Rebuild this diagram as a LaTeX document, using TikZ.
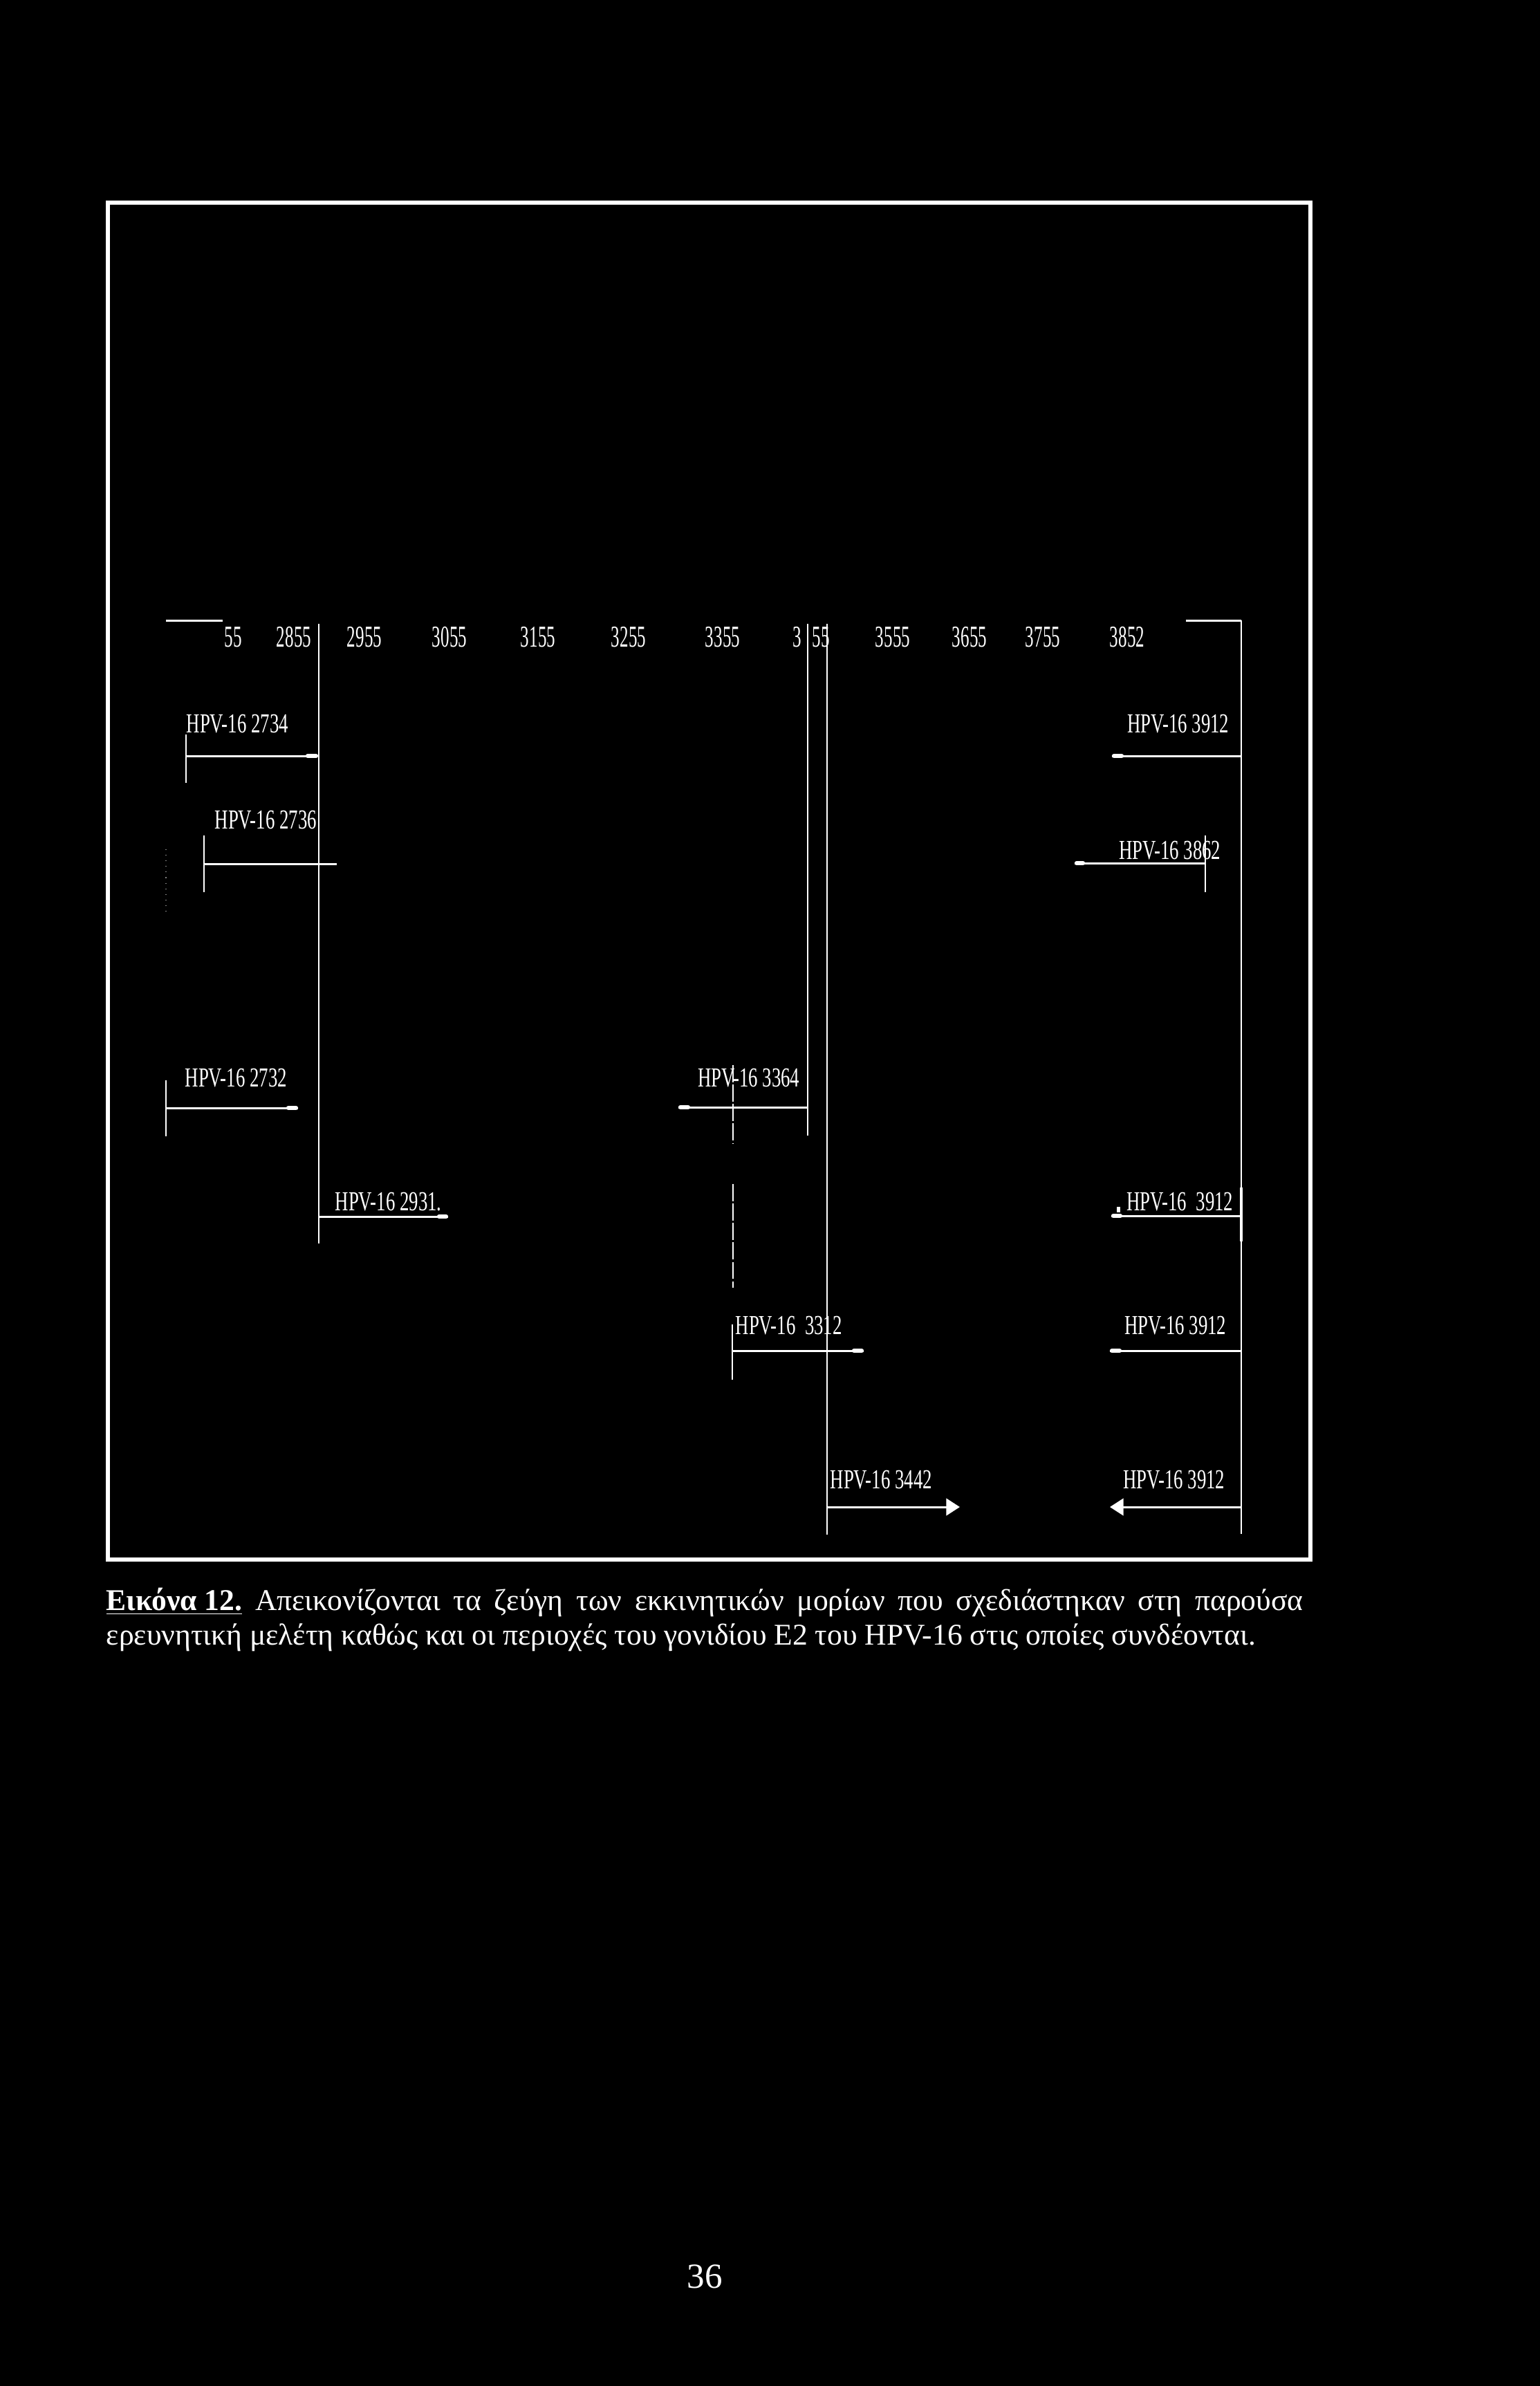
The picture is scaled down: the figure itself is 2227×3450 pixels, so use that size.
\documentclass[tikz,border=0pt]{standalone}
\usepackage{fontspec}
\setmainfont{Liberation Serif}
\newfontfamily\labfam[FakeStretch=0.675]{Liberation Serif}
\newfontfamily\numfam[FakeStretch=0.57]{Liberation Serif}
\usetikzlibrary{arrows.meta}
\tikzset{
  frameline/.style={draw=white, line width=1.7pt},
  hl/.style={draw=white, line width=0.85pt},
  vl/.style={draw=white, line width=0.55pt},
  stub/.style={draw=white, line width=1.8pt, line cap=round},
  lab/.style={text=white, inner sep=0pt, font=\fontsize{11.3pt}{13pt}\labfam},
  num/.style={text=white, inner sep=0pt, font=\fontsize{12.5pt}{14pt}\numfam},
  captext/.style={text=white, inner sep=0pt, font=\fontsize{12.4pt}{15pt}\selectfont},
  arr/.style={hl, -{Triangle[length=5.6pt,width=7pt]}},
  brokenline/.style={vl, dash pattern=on 7pt off 1pt}
}
\begin{document}
\begin{tikzpicture}[x=0.01cm,y=-0.01cm]
\fill[black] (0,0) rectangle (2227,3450);
\useasboundingbox (0,0) rectangle (2227,3450);

% frame
\draw[frameline] (156,293) rectangle (1895,2255);

% ruler
\draw[hl] (240,897) -- (322,897);
\draw[hl] (1715,897) -- (1795,897);
\draw[vl] (1795,897) -- (1795,2218);
\draw[vl] (461,902) -- (461,1798);
\draw[vl] (1168,902) -- (1168,1642);
\draw[vl] (1196,902) -- (1196,2219);

\foreach \xx/\tt/\nm in {337/55/n1, 425/2855/n2, 527/2955/n3, 650/3055/n4, 778/3155/n5,
   909/3255/n6, 1045/3355/n7, 1153/3/n8a, 1187/55/n8b, 1291/3555/n9, 1402/3655/n10,
   1508/3755/n11, 1630/3852/n12}
  \node[num, anchor=base] (\nm) at (\xx,935) {\tt};

% labels
\node[lab, anchor=base west] (p2734) at (269,1059) {HPV-16 2734};
\node[lab, anchor=base east] (p3912a) at (1778,1059) {HPV-16 3912};
\node[lab, anchor=base west] (p2736) at (310,1198) {HPV-16 2736};
\node[lab, anchor=base east] (p3862) at (1766,1242) {HPV-16 3862};
\node[lab, anchor=base west] (p2732) at (267,1571) {HPV-16 2732};
\node[lab, anchor=base east] (p3364) at (1157,1571) {HPV-16 3364};
\node[lab, anchor=base west] (p2931) at (484,1750) {HPV-16 2931.};
\node[lab, anchor=base east] (p3912b) at (1784,1750) {HPV-16\ \ 3912};
\node[lab, anchor=base west] (p3312) at (1063,1929) {HPV-16\ \ 3312};
\node[lab, anchor=base east] (p3912c) at (1774,1929) {HPV-16 3912};
\node[lab, anchor=base west] (p3442) at (1200,2152) {HPV-16 3442};
\node[lab, anchor=base east] (p3912d) at (1772,2152) {HPV-16 3912};

% row 1
\draw[vl] (269,1062) -- (269,1132);
\draw[hl] (269,1093) -- (459,1093);
\draw[stub] (445,1093) -- (457,1093);
\draw[hl] (1608,1093) -- (1795,1093);
\draw[stub] (1611,1093) -- (1622,1093);

% row 2
\draw[vl] (295,1208) -- (295,1290);
\draw[hl] (295,1249) -- (487,1249);
\draw[gray, dotted, line width=0.3pt] (240,1228) -- (240,1320);
\draw[vl] (1743,1208) -- (1743,1290);
\draw[hl] (1554,1248) -- (1743,1248);
\draw[stub] (1557,1248) -- (1566,1248);

% row 3
\draw[vl] (240,1562) -- (240,1643);
\draw[hl] (240,1602) -- (431,1602);
\draw[stub] (417,1602) -- (428,1602);
\draw[hl] (981,1601) -- (1168,1601);
\draw[stub] (984,1601) -- (995,1601);
\draw[brokenline] (1060,1540) -- (1060,1653);

% row 4
\draw[hl] (460,1759) -- (648,1759);
\draw[stub] (635,1759) -- (645,1759);
\draw[hl] (1607,1758) -- (1795,1758);
\draw[stub] (1610,1758) -- (1620,1758);
\draw[white, line width=1.1pt] (1795,1717) -- (1795,1795);
\fill[white] (1615,1745) rectangle (1620,1753);
\draw[brokenline] (1060,1712) -- (1060,1862);

% row 5
\draw[vl] (1059,1915) -- (1059,1995);
\draw[hl] (1059,1953) -- (1249,1953);
\draw[stub] (1235,1953) -- (1246,1953);
\draw[hl] (1605,1953) -- (1795,1953);
\draw[stub] (1608,1953) -- (1619,1953);

% row 6
\draw[arr] (1196,2179) -- (1388,2179);
\draw[arr] (1795,2179) -- (1605,2179);

% caption
\node[captext, anchor=base west] (cap1) at (153,2328)
  {\makebox[17.3cm][s]{\underline{\textbf{Εικόνα 12.}} Απεικονίζονται τα ζεύγη των εκκινητικών μορίων που σχεδιάστηκαν στη παρούσα}};
\node[captext, anchor=base west] (cap2) at (153,2378)
  {ερευνητική μελέτη καθώς και οι περιοχές του γονιδίου E2 του HPV-16 στις οποίες συνδέονται.};

% page number
\node[text=white, inner sep=0pt, anchor=base, font=\fontsize{14.5pt}{17pt}\selectfont] (pg) at (1019,3308) {36};
\end{tikzpicture}
\end{document}
